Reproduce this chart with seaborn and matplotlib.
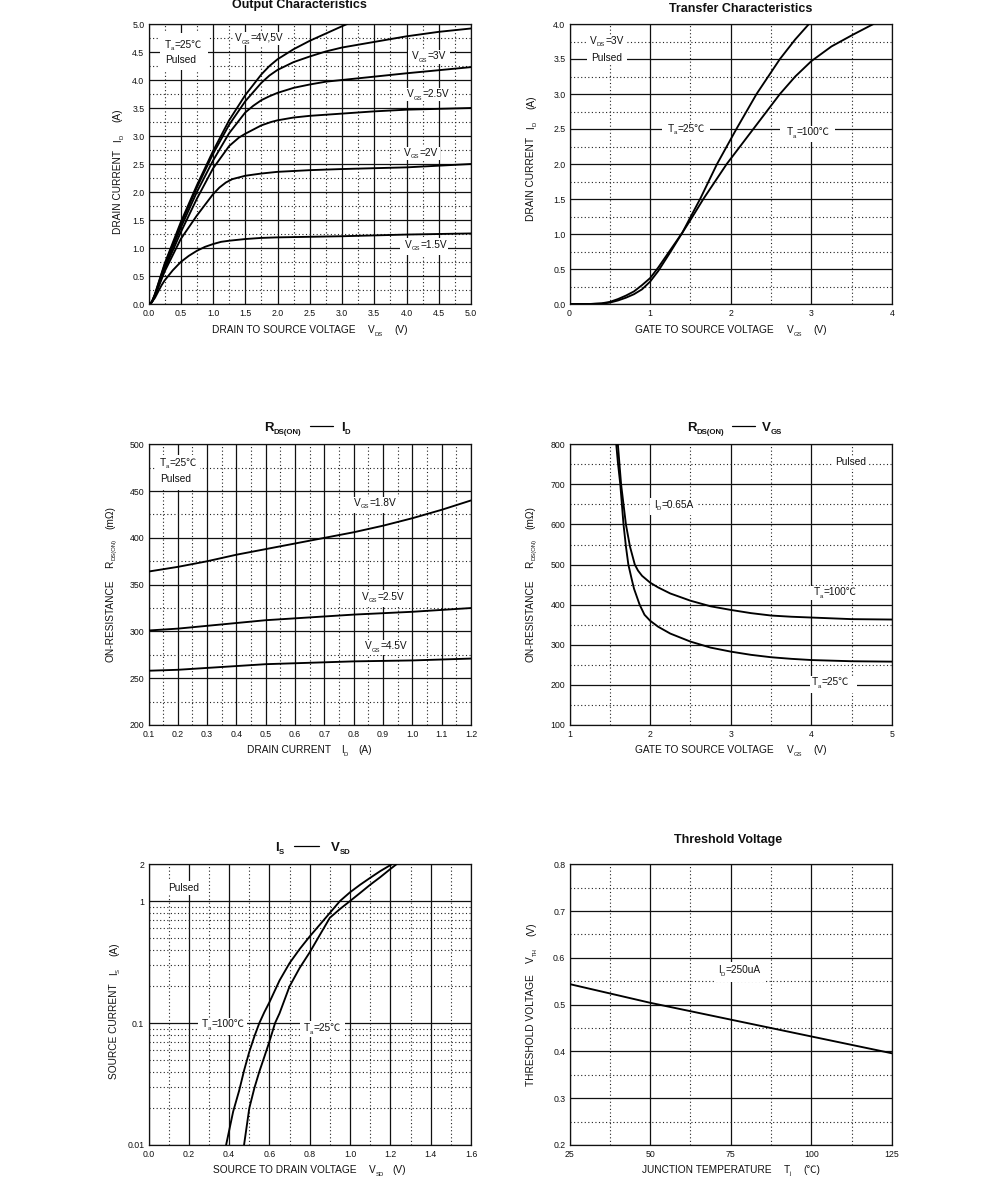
import matplotlib
matplotlib.use('Agg')
import matplotlib.pyplot as plt
from matplotlib.patches import Rectangle
from matplotlib.ticker import MultipleLocator, FixedLocator, FixedFormatter
from matplotlib.transforms import Affine2D
import seaborn as sns

sns.set_theme(style='white')
FONT = ['Liberation Sans', 'Noto Sans CJK SC', 'DejaVu Sans']
plt.rcParams['font.family'] = FONT

# Output characteristics, one x list per curve
vds_15 = [0, 0.05, 0.1, 0.2, 0.25, 0.375, 0.5, 0.625, 0.75, 0.875, 1.0, 1.125, 1.25, 1.5, 1.75, 2.0, 3.0, 4.0, 5.0]
id_15 = [0, 0.03, 0.11, 0.33, 0.42, 0.6, 0.75, 0.86, 0.95, 1.02, 1.07, 1.11, 1.13, 1.16, 1.18, 1.19, 1.21, 1.24, 1.26]
vds_20 = [0, 0.05, 0.1, 0.25, 0.5, 0.75, 1.0, 1.1, 1.2, 1.3, 1.4, 1.5, 1.75, 2.0, 2.5, 3.0, 4.0, 5.0]
id_20 = [0, 0.03, 0.14, 0.58, 1.16, 1.58, 1.96, 2.08, 2.17, 2.23, 2.26, 2.29, 2.33, 2.36, 2.39, 2.41, 2.44, 2.5]
vds_25 = [0, 0.05, 0.1, 0.25, 0.5, 0.75, 1.0, 1.25, 1.4, 1.5, 1.6, 1.75, 1.9, 2.0, 2.25, 2.5, 3.0, 3.5, 4.0, 5.0]
id_25 = [0, 0.03, 0.15, 0.62, 1.28, 1.88, 2.42, 2.82, 2.97, 3.04, 3.1, 3.19, 3.25, 3.28, 3.33, 3.36, 3.4, 3.44, 3.47, 3.5]
vds_30 = [0, 0.05, 0.1, 0.25, 0.5, 0.75, 1.0, 1.25, 1.5, 1.625, 1.75, 1.875, 2.0, 2.25, 2.5, 2.75, 3.0, 3.5, 4.0, 5.0]
id_30 = [0, 0.03, 0.16, 0.66, 1.36, 2.0, 2.56, 3.05, 3.42, 3.54, 3.64, 3.71, 3.77, 3.86, 3.92, 3.97, 4.0, 4.06, 4.12, 4.23]
vds_40 = [0, 0.05, 0.1, 0.25, 0.5, 0.75, 1.0, 1.25, 1.5, 1.75, 1.875, 2.0, 2.25, 2.5, 2.75, 3.0, 3.5, 4.0, 4.5, 5.0]
id_40 = [0, 0.03, 0.17, 0.7, 1.42, 2.08, 2.68, 3.2, 3.62, 3.95, 4.08, 4.18, 4.32, 4.42, 4.51, 4.58, 4.68, 4.78, 4.86, 4.92]
vds_50 = [0, 0.05, 0.1, 0.25, 0.5, 0.75, 1.0, 1.25, 1.5, 1.75, 1.875, 2.0, 2.25, 2.5, 2.75, 3.0, 3.08]
id_50 = [0, 0.03, 0.18, 0.72, 1.46, 2.12, 2.73, 3.28, 3.73, 4.1, 4.25, 4.37, 4.55, 4.7, 4.83, 4.96, 5.0]

# Transfer characteristics
vgs_t25 = [0, 0.25, 0.4, 0.5, 0.6, 0.7, 0.8, 0.9, 1.0, 1.1, 1.25, 1.4, 1.5, 1.62, 1.83, 2.07, 2.32, 2.61, 2.8, 2.97]
id_t25 = [0, 0.0, 0.005, 0.02, 0.05, 0.09, 0.14, 0.21, 0.32, 0.47, 0.74, 1.02, 1.24, 1.5, 2.0, 2.5, 3.0, 3.5, 3.78, 4.0]
vgs_t100 = [0, 0.25, 0.4, 0.5, 0.6, 0.7, 0.8, 0.9, 1.0, 1.1, 1.25, 1.4, 1.5, 1.66, 1.95, 2.28, 2.61, 2.8, 3.0, 3.25, 3.52, 3.77]
id_t100 = [0, 0.0, 0.01, 0.03, 0.07, 0.12, 0.18, 0.27, 0.37, 0.52, 0.77, 1.02, 1.2, 1.5, 2.0, 2.5, 3.0, 3.25, 3.47, 3.68, 3.85, 4.0]

# On-resistance vs drain current
id_r = [0.1, 0.2, 0.3, 0.4, 0.5, 0.6, 0.7, 0.8, 0.9, 1.0, 1.1, 1.2]
r_18 = [364, 369, 375, 382, 388, 394, 400, 406, 413, 421, 430, 440]
r_25 = [301, 303, 306, 309, 312, 314, 316, 318, 319.5, 321, 323, 325]
r_45 = [258, 259, 261, 263, 265, 266, 267, 268, 268.5, 269, 270, 271]

# On-resistance vs gate voltage
vgs_r25 = [1.58, 1.6, 1.63, 1.67, 1.7, 1.73, 1.77, 1.8, 1.87, 1.93, 2.0, 2.1, 2.25, 2.5, 2.75, 3.0, 3.25, 3.5, 3.75, 4.0, 4.5, 5.0]
r_t25 = [800, 755, 700, 600, 545, 500, 465, 440, 400, 375, 360, 345, 328, 308, 293, 283, 275, 269, 265, 262, 259, 258]
vgs_r100 = [1.6, 1.64, 1.7, 1.75, 1.81, 1.85, 1.9, 2.0, 2.1, 2.25, 2.5, 2.75, 3.0, 3.25, 3.5, 3.75, 4.0, 4.5, 5.0]
r_t100 = [800, 700, 600, 545, 500, 485, 472, 455, 443, 428, 410, 396, 387, 379, 373, 370, 368, 364, 363]

# Source current vs source-drain voltage
vsd_100 = [0.385, 0.42, 0.45, 0.475, 0.5, 0.525, 0.55, 0.575, 0.6, 0.65, 0.7, 0.75, 0.8, 0.85, 0.9, 0.95, 1.0, 1.05, 1.1, 1.15, 1.207]
is_100 = [0.01, 0.0188, 0.028, 0.0413, 0.058, 0.0775, 0.1, 0.123, 0.148, 0.223, 0.31, 0.404, 0.513, 0.64, 0.8, 1.0, 1.18, 1.36, 1.55, 1.76, 2.0]
vsd_25 = [0.474, 0.5, 0.525, 0.55, 0.575, 0.6, 0.628, 0.65, 0.7, 0.75, 0.8, 0.85, 0.9, 0.95, 1.0, 1.05, 1.1, 1.15, 1.2, 1.23]
is_25 = [0.01, 0.02, 0.0292, 0.04, 0.053, 0.0705, 0.1, 0.12, 0.2, 0.283, 0.38, 0.527, 0.73, 0.86, 1.0, 1.165, 1.36, 1.57, 1.83, 2.0]

# Threshold voltage
tj = [25, 37.5, 50, 62.5, 75, 87.5, 100, 112.5, 125]
vth = [0.544, 0.524, 0.504, 0.486, 0.468, 0.45, 0.432, 0.414, 0.396]

fig = plt.figure(figsize=(9.91, 12), dpi=100)
fig.patch.set_facecolor('white')
renderer = fig.canvas.get_renderer()
# text and label boxes are placed in reference pixels, origin top left
px = Affine2D().scale(1, -1).translate(0, 1200)


def make_axes(left, top, right, bottom):
    return fig.add_axes([left / 991, 1 - bottom / 1200, (right - left) / 991, (bottom - top) / 1200])


def style_axes(ax, xlim, ylim, xmaj, xmin, ymaj, ymin, xfmt, yfmt):
    ax.set_xlim(*xlim)
    ax.set_ylim(*ylim)
    ax.set(xlabel='', ylabel='')
    ax.xaxis.set_major_locator(MultipleLocator(xmaj))
    ax.xaxis.set_minor_locator(MultipleLocator(xmin))
    ax.yaxis.set_major_locator(MultipleLocator(ymaj))
    ax.yaxis.set_minor_locator(MultipleLocator(ymin))
    ax.xaxis.set_major_formatter(xfmt)
    ax.yaxis.set_major_formatter(yfmt)
    finish_axes(ax)


def finish_axes(ax):
    ax.grid(which='major', color='#111111', lw=0.9, ls='-', zorder=1)
    ax.grid(which='minor', color='#222222', lw=0.8, ls=(0, (1, 2.2)), zorder=1)
    ax.set_axisbelow(True)
    ax.tick_params(which='both', length=0, labelsize=6.3, colors='#111111')
    ax.tick_params(axis='x', which='both', pad=3.5)
    ax.tick_params(axis='y', which='both', pad=3)
    for s in ax.spines.values():
        s.set_visible(True)
        s.set_color('#111111')
        s.set_linewidth(0.9)


def curve(ax, x, y):
    sns.lineplot(x=x, y=y, ax=ax, color='black', lw=1.35, estimator=None, sort=False, zorder=3)


def parts(ax, x, y, pieces, size=7.3, sub=4.2, rotation=0, **kw):
    # pieces are strings, a leading '_' makes a subscript, numbers are gaps in pixels
    vertical = rotation == 90
    pos = x if not vertical else y
    for p in pieces:
        if isinstance(p, (int, float)):
            pos += -p if vertical else p
            continue
        is_sub = p.startswith('_')
        s = p[1:] if is_sub else p
        drop = 2.5 if is_sub else 0
        xy = (x + drop, pos) if vertical else (pos, y + drop)
        t = ax.text(xy[0], xy[1], s, transform=px, fontsize=sub if is_sub else size, color='#111111',
                    family=FONT, rotation=rotation, rotation_mode='anchor', ha='left', va='baseline',
                    clip_on=False, zorder=4, **kw)
        ext = t.get_window_extent(renderer)
        pos += -ext.height if vertical else ext.width


def note(ax, x, y, pieces, box=None):
    if box is not None:
        ax.add_patch(Rectangle((box[0], box[1]), box[2] - box[0], box[3] - box[1], transform=px,
                               fc='white', ec='none', clip_on=False, zorder=2))
    parts(ax, x, y, pieces)


def dash(ax, x0, x1, y):
    ax.plot([x0, x1], [y, y], transform=px, color='black', lw=0.9, clip_on=False, scalex=False, scaley=False)


def title(ax, cx, y, text):
    ax.text(cx, y, text, transform=px, fontsize=9, fontweight='bold', ha='center', va='baseline',
            color='#111111', clip_on=False)


one = '{x:.1f}'
whole = '{x:.0f}'
ax1 = make_axes(148.5, 24, 471, 304)
for a, b in [(vds_15, id_15), (vds_20, id_20), (vds_25, id_25), (vds_30, id_30), (vds_40, id_40), (vds_50, id_50)]:
    curve(ax1, a, b)
style_axes(ax1, (0, 5), (0, 5), 0.5, 0.25, 0.5, 0.25, one, one)
title(ax1, 299, 8, 'Output Characteristics')
note(ax1, 165, 48, ['T', '_a', '=25℃'], (160, 33, 208, 70))
parts(ax1, 165, 63, ['Pulsed'])
note(ax1, 235, 41, ['V', '_GS', '=4V,5V'], (233, 32, 286, 45))
note(ax1, 412, 59, ['V', '_GS', '=3V'], (408, 50, 450, 64))
note(ax1, 407, 97, ['V', '_GS', '=2.5V'], (403, 88, 452, 101))
note(ax1, 404, 156, ['V', '_GS', '=2V'], (401, 147, 440, 160))
note(ax1, 405, 247.5, ['V', '_GS', '=1.5V'], (400, 238, 448, 255))
parts(ax1, 212, 333, ['DRAIN TO SOURCE VOLTAGE', 12, 'V', '_DS', 12, '(V)'])
parts(ax1, 120.7, 234, ['DRAIN CURRENT', 8, 'I', '_D', 13, '(A)'], rotation=90)

ax2 = make_axes(569.5, 24, 892, 304)
curve(ax2, vgs_t25, id_t25)
curve(ax2, vgs_t100, id_t100)
style_axes(ax2, (0, 4), (0, 4), 1, 0.5, 0.5, 0.25, whole, one)
title(ax2, 741, 12, 'Transfer Characteristics')
note(ax2, 590, 44, ['V', '_DS', '=3V'], (587, 35, 627, 65))
parts(ax2, 591, 61, ['Pulsed'])
note(ax2, 668, 132, ['T', '_a', '=25℃'], (662, 124, 710, 138))
note(ax2, 787, 135, ['T', '_a', '=100℃'], (780, 126, 835, 142))
parts(ax2, 635, 333, ['GATE TO SOURCE VOLTAGE', 13, 'V', '_GS', 12, '(V)'])
parts(ax2, 534, 221, ['DRAIN CURRENT', 8, 'I', '_D', 13, '(A)'], rotation=90)

ax3 = make_axes(148.5, 444.3, 471, 725)
curve(ax3, id_r, r_18)
curve(ax3, id_r, r_25)
curve(ax3, id_r, r_45)
style_axes(ax3, (0.1, 1.2), (200, 500), 0.1, 0.05, 50, 25, one, whole)
parts(ax3, 264, 431, ['R', '_DS(ON)'], size=9.5, sub=5.6, fontweight='bold')
dash(ax3, 310, 333, 426)
parts(ax3, 341, 431, ['I', '_D'], size=9.5, sub=5.6, fontweight='bold')
note(ax3, 160, 466, ['T', '_a', '=25℃'], (155, 455, 200, 490))
parts(ax3, 160, 482, ['Pulsed'])
note(ax3, 354, 506, ['V', '_GS', '=1.8V'], (350, 497, 402, 513))
note(ax3, 362, 600, ['V', '_GS', '=2.5V'], (358, 590, 408, 607))
note(ax3, 365, 649, ['V', '_GS', '=4.5V'], (361, 640, 410, 655))
parts(ax3, 247, 753, ['DRAIN CURRENT', 10, 'I', '_D', 10, '(A)'])
parts(ax3, 113, 662, ['ON-RESISTANCE', 12, 'R', '_DS(ON)', 10, '(mΩ)'], rotation=90)

ax4 = make_axes(569.5, 444.3, 892, 725)
curve(ax4, vgs_r25, r_t25)
curve(ax4, vgs_r100, r_t100)
style_axes(ax4, (1, 5), (100, 800), 1, 0.5, 100, 50, whole, whole)
parts(ax4, 687, 431, ['R', '_DS(ON)'], size=9.5, sub=5.6, fontweight='bold')
dash(ax4, 732, 755, 426)
parts(ax4, 762, 431, ['V', '_GS'], size=9.5, sub=5.6, fontweight='bold')
note(ax4, 835, 465, ['Pulsed'], (832, 456, 869, 469))
note(ax4, 654, 508, ['I', '_D', '=0.65A'], (650, 498, 696, 515))
note(ax4, 814, 595, ['T', '_a', '=100℃'], (810, 586, 858, 600))
note(ax4, 812, 685, ['T', '_a', '=25℃'], (810, 676, 857, 693))
parts(ax4, 635, 753, ['GATE TO SOURCE VOLTAGE', 13, 'V', '_GS', 12, '(V)'])
parts(ax4, 533, 662, ['ON-RESISTANCE', 12, 'R', '_DS(ON)', 10, '(mΩ)'], rotation=90)

ax5 = make_axes(148.5, 864.3, 471, 1145)
curve(ax5, vsd_100, is_100)
curve(ax5, vsd_25, is_25)
ax5.set_yscale('log')
ax5.set_xlim(0, 1.6)
ax5.set_ylim(0.01, 2)
ax5.set(xlabel='', ylabel='')
ax5.xaxis.set_major_locator(MultipleLocator(0.2))
ax5.xaxis.set_minor_locator(MultipleLocator(0.1))
ax5.xaxis.set_major_formatter(one)
ax5.yaxis.set_major_locator(FixedLocator([0.01, 0.1, 1, 2]))
ax5.yaxis.set_major_formatter(FixedFormatter(['0.01', '0.1', '1', '2']))
ax5.yaxis.set_minor_locator(FixedLocator([k * 0.01 for k in range(2, 10)] + [k * 0.1 for k in range(2, 10)]))
ax5.yaxis.set_minor_formatter('')
finish_axes(ax5)
parts(ax5, 275, 851, ['I', '_S'], size=9.5, sub=5.6, fontweight='bold')
dash(ax5, 294, 319, 846)
parts(ax5, 331, 851, ['V', '_SD'], size=9.5, sub=5.6, fontweight='bold')
note(ax5, 168, 891, ['Pulsed'], (165, 881, 200, 895))
note(ax5, 202, 1027, ['T', '_a', '=100℃'], (198, 1018, 247, 1035))
note(ax5, 304, 1031, ['T', '_a', '=25℃'], (300, 1021, 345, 1037))
parts(ax5, 213, 1173, ['SOURCE TO DRAIN VOLTAGE', 12, 'V', '_SD', 9, '(V)'])
parts(ax5, 117, 1079, ['SOURCE CURRENT', 8, 'I', '_S', 13, '(A)'], rotation=90)

ax6 = make_axes(569.5, 864.3, 892, 1145)
curve(ax6, tj, vth)
style_axes(ax6, (25, 125), (0.2, 0.8), 25, 12.5, 0.1, 0.05, whole, one)
title(ax6, 728, 843, 'Threshold Voltage')
note(ax6, 718, 973, ['I', '_D', '=250uA'], (715, 962, 765, 982))
parts(ax6, 642, 1173, ['JUNCTION TEMPERATURE', 12, 'T', '_j', 12, '(℃)'])
parts(ax6, 534, 1086, ['THRESHOLD VOLTAGE', 11, 'V', '_TH', 13, '(V)'], rotation=90)

fig.savefig('out.png', dpi=100)
